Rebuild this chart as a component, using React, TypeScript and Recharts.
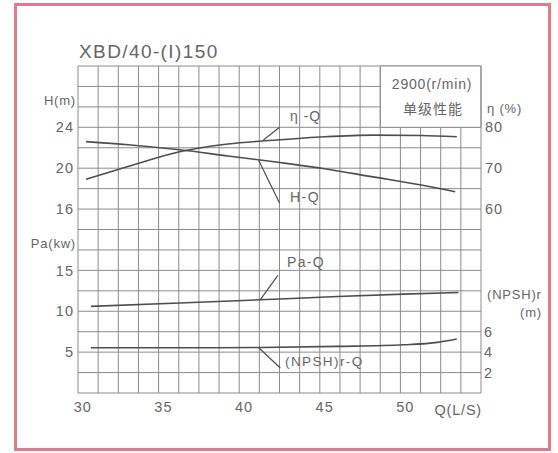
import React from "react";
import {
  ComposedChart,
  Line,
  XAxis,
  YAxis,
  CartesianGrid,
  ReferenceArea,
  ReferenceLine,
} from "recharts";

// Q (L/S) axis and the four performance curves
const qDomain = [29.7, 54.7];
const qTicks = [30, 35, 40, 45, 50];
const headTicks = [16, 20, 24];
const powerTicks = [5, 10, 15];
const etaTicks = [60, 70, 80];
const npshTicks = [2, 4, 6];

const hFlow = [30.2, 32.8, 36, 39, 42, 45, 48, 51, 53.1];
const hHead = [22.6, 22.3, 21.8, 21.2, 20.6, 19.95, 19.15, 18.35, 17.7];

const etaFlow = [30.2, 32.8, 36, 39, 42, 45, 48, 51, 53.2];
const etaVal = [67.3, 70.4, 74.0, 75.9, 76.9, 77.7, 78.1, 78.0, 77.7];

const paFlow = [30.5, 36, 41, 45.8, 49.9, 53.3];
const paVal = [10.6, 11.0, 11.4, 11.8, 12.1, 12.3];

const npshFlow = [30.5, 36, 41, 45.8, 49.9, 52, 53.2];
const npshVal = [4.43, 4.43, 4.45, 4.56, 4.72, 4.95, 5.28];

// paper grid: vertical lines every 1.25 L/S (20 columns), 16 rows
const gridQ = [
  29.7, 30.95, 32.2, 33.45, 34.7, 35.95, 37.2, 38.45, 39.7, 40.95, 42.2,
  43.45, 44.7, 45.95, 47.2, 48.45, 49.7, 50.95, 52.2, 53.45, 54.7,
];
const gridRows = [0, 1, 2, 3, 4, 5, 6, 7, 8, 9, 10, 11, 12, 13, 14, 15, 16];
// label box: grid columns 15..20, rows 13..16
const boxQ = [48.45, 54.7];
const boxRows = [13, 16];

const zip = (xs: number[], ys: number[]) => xs.map((q, i) => ({ q, v: ys[i] }));

const hData = zip(hFlow, hHead);
const etaData = zip(etaFlow, etaVal);
const paData = zip(paFlow, paVal);
const npshData = zip(npshFlow, npshVal);

const FONT = "'Liberation Sans', Arial, sans-serif";
const TEXT = "#666";
const CURVE = "#4e4e4e";
const GRID = "#8c8c8c";

const tickStyle = { fill: TEXT, fontSize: 14.5, fontFamily: FONT, letterSpacing: 1 };

const overlayTexts = [
  { t: "XBD/40-(I)150", x: 79, y: 58, size: 19, ls: 1.4, anchor: "start" },
  { t: "H(m)", x: 76, y: 105, size: 13, ls: 0.8, anchor: "end" },
  { t: "Pa(kw)", x: 76, y: 248, size: 13, ls: 0.8, anchor: "end" },
  { t: "η (%)", x: 487, y: 113, size: 13, ls: 0.8, anchor: "start" },
  { t: "(NPSH)r", x: 487, y: 299, size: 13, ls: 0.8, anchor: "start" },
  { t: "(m)", x: 542, y: 317, size: 13, ls: 0.8, anchor: "end" },
  { t: "Q(L/S)", x: 482, y: 415, size: 14.5, ls: 0.8, anchor: "end" },
  { t: "2900(r/min)", x: 432, y: 89, size: 14, ls: 0.8, anchor: "middle" },
  { t: "η -Q", x: 290, y: 121, size: 14, ls: 1, anchor: "start" },
  { t: "H-Q", x: 290, y: 202, size: 14, ls: 1.5, anchor: "start" },
  { t: "Pa-Q", x: 287, y: 267, size: 14, ls: 1.3, anchor: "start" },
  { t: "(NPSH)r-Q", x: 285, y: 366, size: 13.5, ls: 1.4, anchor: "start" },
];

const axisCommon = {
  type: "number" as const,
  allowDataOverflow: true,
  interval: 0 as const,
  axisLine: false,
  tickLine: false,
  tickSize: 0,
  tick: tickStyle,
};

export default function App() {
  return (
    <div style={{ position: "absolute", left: 0, top: 0, width: 558, height: 453, background: "#fff" }}>
      <div
        style={{
          position: "absolute",
          left: 14,
          top: 3,
          width: 537,
          height: 448,
          border: "3px solid #e37a8b",
          boxSizing: "border-box",
        }}
      />
      <ComposedChart
        width={558}
        height={453}
        margin={{ top: 66, right: 75, bottom: 59, left: 76 }}
        style={{ position: "absolute", left: 0, top: 0 }}
      >
        <YAxis yAxisId="gy" type="number" domain={[0, 16]} ticks={gridRows} interval={0} width={0} hide allowDataOverflow />
        <CartesianGrid yAxisId="gy" stroke={GRID} strokeWidth={1} vertical={false} />

        <XAxis xAxisId="q" dataKey="q" domain={qDomain} ticks={qTicks} height={1} tickMargin={9} {...axisCommon} />
        <YAxis yAxisId="h" domain={[-2, 30]} ticks={headTicks} width={1} tickMargin={4} {...axisCommon} />
        <YAxis yAxisId="pa" domain={[0, 40]} ticks={powerTicks} width={1} tickMargin={3} {...axisCommon} />
        <YAxis yAxisId="eta" orientation="right" domain={[15, 95]} ticks={etaTicks} width={1} tickMargin={4} {...axisCommon} />
        <YAxis yAxisId="npsh" orientation="right" domain={[0, 32]} ticks={npshTicks} width={1} tickMargin={2} {...axisCommon} />

        {/* white label box in the top right corner */}
        <ReferenceArea
          xAxisId="q"
          yAxisId="gy"
          x1={boxQ[0]}
          x2={boxQ[1]}
          y1={boxRows[0]}
          y2={boxRows[1]}
          fill="#fff"
          fillOpacity={1}
          stroke={GRID}
          strokeWidth={1}
        />

        {/* vertical paper lines, stopping under the label box */}
        {gridQ.map((q) => (
          <ReferenceLine
            key={`v${q}`}
            xAxisId="q"
            yAxisId="gy"
            segment={[
              { x: q, y: 0 },
              { x: q, y: q > boxQ[0] && q < boxQ[1] ? boxRows[0] : boxRows[1] },
            ]}
            stroke={GRID}
            strokeWidth={1}
          />
        ))}

        {/* leader lines to curve names */}
        <ReferenceLine xAxisId="q" yAxisId="eta" segment={[{ x: 41.2, y: 76.9 }, { x: 42.2, y: 80 }]} stroke={CURVE} strokeWidth={1.2} />
        <ReferenceLine xAxisId="q" yAxisId="h" segment={[{ x: 40.9, y: 20.8 }, { x: 42.2, y: 16.6 }]} stroke={CURVE} strokeWidth={1.2} />
        <ReferenceLine xAxisId="q" yAxisId="pa" segment={[{ x: 41.0, y: 11.4 }, { x: 42.1, y: 14.4 }]} stroke={CURVE} strokeWidth={1.2} />
        <ReferenceLine xAxisId="q" yAxisId="npsh" segment={[{ x: 40.9, y: 4.45 }, { x: 42.25, y: 2.45 }]} stroke={CURVE} strokeWidth={1.2} />

        <Line data={hData} dataKey="v" xAxisId="q" yAxisId="h" type="monotone" dot={false} stroke={CURVE} strokeWidth={1.6} isAnimationActive={false} />
        <Line data={etaData} dataKey="v" xAxisId="q" yAxisId="eta" type="monotone" dot={false} stroke={CURVE} strokeWidth={1.6} isAnimationActive={false} />
        <Line data={paData} dataKey="v" xAxisId="q" yAxisId="pa" type="monotone" dot={false} stroke={CURVE} strokeWidth={1.6} isAnimationActive={false} />
        <Line data={npshData} dataKey="v" xAxisId="q" yAxisId="npsh" type="monotone" dot={false} stroke={CURVE} strokeWidth={1.6} isAnimationActive={false} />
      </ComposedChart>

      <svg width={558} height={453} style={{ position: "absolute", left: 0, top: 0, pointerEvents: "none" }}>
        {overlayTexts.map((o, i) => (
          <text
            key={i}
            x={o.x}
            y={o.y}
            fontSize={o.size}
            fontFamily={FONT}
            fill={TEXT}
            letterSpacing={o.ls}
            textAnchor={o.anchor as any}
          >
            {o.t}
          </text>
        ))}
        <text
          x={433}
          y={114}
          fontSize={14}
          fontFamily="'Noto Sans CJK SC', sans-serif"
          fill={TEXT}
          letterSpacing={1}
          textAnchor="middle"
        >
          单级性能
        </text>
      </svg>
    </div>
  );
}
